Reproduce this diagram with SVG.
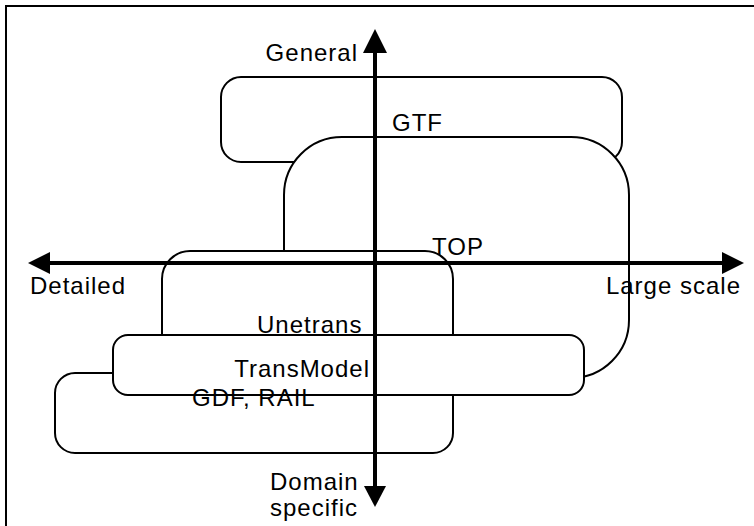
<svg xmlns="http://www.w3.org/2000/svg" width="754" height="526" viewBox="0 0 754 526">
<style>
.box{fill:#fff;stroke:#000;stroke-width:2}
.axis{stroke:#000;stroke-width:4;fill:none}
.head{fill:#000}
.lbl{font-family:"Liberation Sans",Arial,sans-serif;font-size:24px;fill:#000;letter-spacing:1px}
</style>
<rect width="754" height="526" fill="#fff"/>
<path d="M6,526 V6 H754" fill="none" stroke="#000" stroke-width="2"/>
<g id="GTF"><rect class="box" x="221" y="77" width="401" height="85" rx="20"/></g>
<g id="TOP"><rect class="box" x="284" y="137" width="345" height="241" rx="58"/></g>
<g id="Unetrans"><rect class="box" x="162" y="251" width="291" height="190" rx="28"/></g>
<g id="GDF"><rect class="box" x="55" y="373" width="398" height="80" rx="20"/></g>
<g id="TransModel"><rect class="box" x="113" y="335" width="471" height="60" rx="15"/></g>
<g id="connectors">
<line class="axis" x1="48" y1="263" x2="724" y2="263"/>
<polygon class="head" points="28,263 50,252 50,274"/>
<polygon class="head" points="744,263 722,252 722,274"/>
<line class="axis" x1="375" y1="50" x2="375" y2="488"/>
<polygon class="head" points="375,29 363,53 387,53"/>
<polygon class="head" points="375,507 364,486 386,486"/>
</g>
<g id="labels">
<text class="lbl" x="358" y="61" text-anchor="end">General</text>
<text class="lbl" x="30" y="294">Detailed</text>
<text class="lbl" x="741" y="294" text-anchor="end">Large scale</text>
<text class="lbl" x="392" y="131">GTF</text>
<text class="lbl" x="432" y="255">TOP</text>
<text class="lbl" x="257" y="333">Unetrans</text>
<text class="lbl" x="370" y="377" text-anchor="end">TransModel</text>
<text class="lbl" x="192" y="406">GDF, RAIL</text>
<text class="lbl" x="270" y="490">Domain</text>
<text class="lbl" x="270" y="516">specific</text>
</g>
</svg>
